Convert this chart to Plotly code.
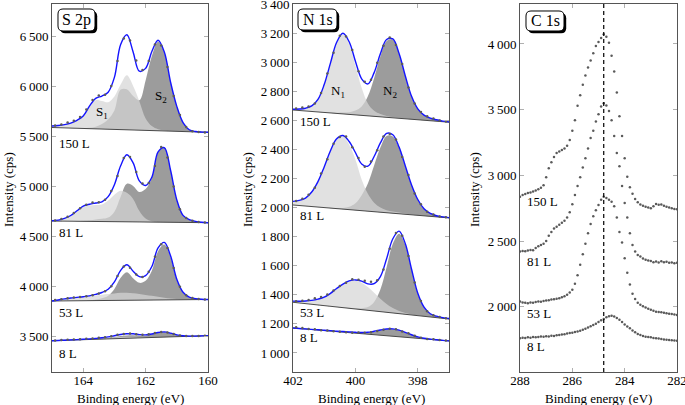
import numpy as np
import plotly.graph_objects as go

W, H = 685, 405
FONT = "Liberation Serif"

# ---------------- S 2p ----------------
s2p_energy = [round(165.0 - 0.2 * i, 2) for i in range(26)]
s2p_data_energy = [round(164.9 - 0.2 * i, 2) for i in range(25)]
s2p_doses = ["150 L", "81 L", "53 L", "8 L"]
s2p_bg = {"150 L": (5585, 5537), "81 L": (4650, 4633), "53 L": (3850, 3865), "8 L": (3453, 3503)}
s2p_s1 = {
    "150 L": [15, 22, 33, 50, 79, 122, 217, 285, 280, 270, 330, 450, 545, 440, 290, 120, 45, 15, 5, 0, 0, 0, 0, 0, 0, 0],
    "81 L": [3, 10, 28, 57, 102, 145, 160, 165, 170, 210, 270, 310, 290, 230, 110, 35, 8, 2, 0, 0, 0, 0, 0, 0, 0, 0],
    "53 L": [0, 10, 20, 28, 33, 38, 43, 50, 57, 64, 70, 75, 75, 70, 62, 52, 42, 32, 22, 14, 8, 4, 2, 0, 0, 0],
    "8 L": [0, 0, 1, 2, 3, 3, 4, 6, 8, 11, 14, 16, 16, 14, 10, 6, 3, 1, 0, 0, 0, 0, 0, 0, 0, 0],
}
s2p_s2 = {
    "150 L": [0, 0, 0, 0, 1, 3, 8, 20, 50, 100, 190, 400, 405, 340, 300, 500, 745, 890, 785, 490, 250, 90, 20, 4, 0, 0],
    "81 L": [0, 0, 0, 0, 3, 7, 12, 20, 27, 40, 100, 250, 380, 360, 300, 330, 440, 700, 745, 520, 225, 70, 28, 12, 4, 0],
    "53 L": [0, 0, 0, 0, 1, 2, 5, 12, 23, 48, 115, 225, 280, 220, 173, 193, 293, 488, 553, 426, 197, 71, 23, 10, 3, 0],
    "8 L": [0, 0, 0, 0, 0, 1, 2, 3, 5, 9, 16, 24, 29, 29, 23, 22, 32, 47, 52, 38, 18, 7, 2, 0, 0, 0],
}
s2p_data = {
    "150 L": [5605, 5615, 5635, 5652, 5690, 5765, 5860, 5905, 5912, 6000, 6250, 6475, 6455, 6255, 6160, 6250, 6415, 6405, 6190, 5900, 5710, 5590, 5548, 5540, 5536],
    "81 L": [4656, 4670, 4692, 4730, 4778, 4812, 4835, 4838, 4862, 4950, 5100, 5280, 5290, 5140, 5025, 5030, 5200, 5390, 5285, 4995, 4768, 4680, 4652, 4640, 4636],
    "53 L": [3860, 3868, 3878, 3885, 3890, 3897, 3908, 3924, 3948, 3998, 4100, 4195, 4182, 4115, 4090, 4142, 4293, 4418, 4380, 4180, 3992, 3908, 3880, 3871, 3866],
    "8 L": [3456, 3459, 3462, 3466, 3468, 3472, 3476, 3482, 3488, 3498, 3512, 3521, 3525, 3518, 3512, 3517, 3530, 3541, 3536, 3520, 3506, 3500, 3499, 3501, 3502],
}
s2p_label_y = {"150 L": 5430, "81 L": 4540, "53 L": 3740, "8 L": 3330}

# ---------------- N 1s ----------------
n1s_energy = [round(402.0 - 0.2 * i, 2) for i in range(26)]
n1s_data_energy = [round(401.9 - 0.2 * i, 2) for i in range(25)]
n1s_bg = {"150 L": (2673, 2589), "81 L": (2019, 1930), "53 L": (1349, 1234), "8 L": (1172, 1083)}
n1s_n1 = {
    "150 L": [5, 10, 19, 38, 85, 190, 340, 485, 546, 485, 340, 190, 85, 38, 19, 10, 5, 3, 2, 1, 0, 0, 0, 0, 0, 0],
    "81 L": [25, 35, 55, 100, 175, 280, 393, 477, 499, 449, 349, 215, 120, 62, 32, 18, 12, 8, 5, 3, 2, 1, 0, 0, 0, 0],
    "53 L": [8, 12, 18, 27, 40, 58, 89, 126, 160, 186, 195, 186, 160, 126, 89, 58, 34, 18, 9, 4, 2, 1, 0, 0, 0, 0],
    "8 L": [0, 0, 1, 1, 2, 2, 3, 3, 4, 4, 4, 4, 3, 3, 2, 2, 1, 1, 0, 0, 0, 0, 0, 0, 0, 0],
}
n1s_n2 = {
    "150 L": [0, 0, 0, 0, 1, 2, 3, 5, 9, 15, 30, 62, 135, 263, 415, 526, 538, 443, 293, 157, 75, 35, 18, 10, 4, 2],
    "81 L": [0, 0, 0, 0, 0, 0, 2, 4, 8, 20, 48, 107, 190, 318, 445, 529, 529, 451, 328, 203, 107, 48, 20, 8, 4, 2],
    "53 L": [0, 0, 0, 0, 0, 0, 0, 1, 2, 3, 5, 10, 22, 62, 152, 311, 477, 550, 477, 311, 152, 62, 22, 10, 5, 3],
    "8 L": [0, 0, 0, 0, 0, 0, 0, 0, 0, 1, 2, 4, 10, 21, 34, 45, 50, 45, 34, 21, 10, 4, 2, 1, 0, 0],
}
n1s_data = {
    "150 L": [2683, 2690, 2697, 2718, 2790, 2925, 3068, 3185, 3180, 3086, 2940, 2868, 2882, 2998, 3116, 3172, 3120, 2990, 2828, 2718, 2660, 2630, 2614, 2600, 2594],
    "81 L": [2047, 2062, 2090, 2138, 2235, 2334, 2440, 2488, 2490, 2416, 2342, 2283, 2318, 2396, 2490, 2508, 2470, 2350, 2225, 2098, 2024, 1972, 1954, 1940, 1935],
    "53 L": [1356, 1360, 1364, 1376, 1385, 1402, 1430, 1462, 1484, 1508, 1505, 1498, 1490, 1500, 1575, 1718, 1826, 1808, 1668, 1486, 1358, 1288, 1260, 1247, 1239],
    "8 L": [1178, 1172, 1165, 1163, 1156, 1155, 1150, 1147, 1143, 1140, 1141, 1139, 1143, 1152, 1160, 1167, 1163, 1148, 1136, 1119, 1104, 1097, 1094, 1090, 1086],
}
n1s_label_y = {"150 L": 2593, "81 L": 1950, "53 L": 1278, "8 L": 1105}

# ---------------- C 1s ----------------
c1s_energy = [round(288.0 - 0.1 * i, 2) for i in range(61)]
c1s_data = {
    "150 L": [2838, 2850, 2858, 2866, 2870, 2878, 2885, 2895, 2905, 2925, 2985, 3055, 3100, 3140, 3170, 3182, 3193, 3205, 3225, 3270,
              3340, 3420, 3530, 3610, 3690, 3760, 3820, 3875, 3930, 3985, 4015, 4045, 4074, 4055, 4010, 3910, 3790, 3630, 3450, 3300,
              3130, 2990, 2910, 2860, 2820, 2795, 2778, 2768, 2762, 2755, 2750, 2765, 2782, 2776, 2778, 2768, 2762, 2755, 2750, 2745, 2742],
    "81 L": [2420, 2425, 2422, 2428, 2432, 2430, 2448, 2460, 2470, 2480, 2500, 2540, 2570, 2595, 2610, 2625, 2640, 2655, 2680, 2720,
             2780, 2850, 2920, 2985, 3060, 3130, 3205, 3285, 3340, 3410, 3465, 3525, 3549, 3532, 3490, 3420, 3300, 3170, 3070, 2920,
             2790, 2680, 2560, 2470, 2420, 2395, 2382, 2368, 2358, 2352, 2348, 2340, 2345, 2338, 2346, 2340, 2343, 2335, 2338, 2332, 2336],
    "53 L": [2040, 2033, 2030, 2028, 2032, 2030, 2036, 2040, 2038, 2045, 2048, 2050, 2055, 2058, 2062, 2066, 2072, 2080, 2092, 2108,
             2130, 2175, 2240, 2320, 2400, 2480, 2560, 2630, 2690, 2735, 2775, 2815, 2838, 2828, 2815, 2800, 2765, 2680, 2570, 2490,
             2370, 2260, 2170, 2100, 2060, 2030, 2015, 2005, 1995, 1985, 1978, 1970, 1963, 1960, 1958, 1955, 1951, 1948, 1945, 1942, 1938],
    "8 L": [1760, 1765, 1762, 1768, 1765, 1770, 1768, 1770, 1775, 1772, 1776, 1775, 1780, 1778, 1784, 1786, 1790, 1792, 1796, 1800,
            1803, 1808, 1812, 1818, 1825, 1833, 1842, 1852, 1862, 1872, 1885, 1897, 1908, 1920, 1928, 1932, 1926, 1915, 1902, 1885,
            1866, 1850, 1836, 1820, 1806, 1793, 1785, 1778, 1772, 1770, 1768, 1762, 1760, 1758, 1756, 1752, 1750, 1748, 1746, 1744, 1742],
}
c1s_label_y = {"150 L": 2800, "81 L": 2343, "53 L": 1951, "8 L": 1696}
c1s_reference_energy = 284.8

# ticks
s2p_xticks = [164, 162, 160]
s2p_yticks = [3500, 4000, 4500, 5000, 5500, 6000, 6500]
n1s_xticks = [402, 400, 398]
n1s_yticks = [1000, 1200, 1400, 1600, 1800, 2000, 2200, 2400, 2600, 2800, 3000, 3200, 3400]
c1s_xticks = [288, 286, 284, 282]
c1s_yticks = [2000, 2500, 3000, 3500, 4000]

LIGHT = "rgba(213,213,213,0.72)"
DARK = "rgba(128,128,128,0.78)"
BLUE = "#1414ff"
DOT = "#5a5a5a"


def fmt(v):
    return f"{v:,}".replace(",", "\u2009")


fig = go.Figure()


def add_fit(xa, ya, energy, bg, comp_light, comp_dark, dE, dY):
    e = np.array(energy)
    bgy = np.linspace(bg[0], bg[1], len(e))
    lt = bgy + np.array(comp_light)
    dk = bgy + np.array(comp_dark)
    env = bgy + np.array(comp_light) + np.array(comp_dark)
    common = dict(xaxis=xa, yaxis=ya, showlegend=False, hoverinfo="skip")
    fig.add_trace(go.Scatter(x=e, y=bgy, mode="lines", line=dict(width=0), **common))
    fig.add_trace(go.Scatter(x=e, y=dk, mode="lines", fill="tonexty", fillcolor=DARK,
                             line=dict(width=0, shape="spline", smoothing=1.0), **common))
    fig.add_trace(go.Scatter(x=e, y=bgy, mode="lines", line=dict(width=0), **common))
    fig.add_trace(go.Scatter(x=e, y=lt, mode="lines", fill="tonexty", fillcolor=LIGHT,
                             line=dict(width=0, shape="spline", smoothing=1.0), **common))
    fig.add_trace(go.Scatter(x=e, y=bgy, mode="lines", line=dict(width=0.9, color="#3a3a3a"), **common))
    fig.add_trace(go.Scatter(x=e, y=env, mode="lines", line=dict(width=1.4, color=BLUE, shape="spline", smoothing=1.0), **common))
    fig.add_trace(go.Scatter(x=dE, y=dY, mode="markers", marker=dict(size=2.5, color=DOT), **common))


for d in s2p_doses:
    add_fit("x", "y", s2p_energy, s2p_bg[d], s2p_s1[d], s2p_s2[d], s2p_data_energy, s2p_data[d])
    add_fit("x2", "y2", n1s_energy, n1s_bg[d], n1s_n1[d], n1s_n2[d], n1s_data_energy, n1s_data[d])
    fig.add_trace(go.Scatter(x=c1s_energy, y=c1s_data[d], xaxis="x3", yaxis="y3", mode="markers",
                             marker=dict(size=2.5, color=DOT), showlegend=False, hoverinfo="skip"))

# axes
domains_x = [(52 / W, 208 / W), (293 / W, 449 / W), (520 / W, 677 / W)]
dom_y = (1 - 372 / H, 1 - 4 / H)
axis_common = dict(showline=True, linecolor="#555555", linewidth=1, mirror="ticks", ticks="inside",
                   ticklen=4, tickcolor="#b0b0b0", tickwidth=1, showgrid=False, zeroline=False,
                   automargin=False, ticklabeloverflow="allow",
                   tickfont=dict(family=FONT, size=13, color="black"))
xr = [[165, 160], [402, 397], [288, 282]]
yr = [[3140, 6820], [869, 3403], [1504, 4304]]
xt = [s2p_xticks, n1s_xticks, c1s_xticks]
yt = [s2p_yticks, n1s_yticks, c1s_yticks]
names = ["", "2", "3"]
for k in range(3):
    fig.update_layout(**{
        "xaxis" + names[k]: dict(domain=domains_x[k], range=xr[k], anchor="y" + names[k],
                                 tickvals=xt[k], ticktext=[str(v) for v in xt[k]],
                                 ticklabelstandoff=-4, **axis_common),
        "yaxis" + names[k]: dict(domain=dom_y, range=yr[k], anchor="x" + names[k],
                                 tickvals=yt[k], ticktext=[fmt(v) for v in yt[k]], **axis_common),
    })

# dashed reference line in C 1s
fig.add_shape(type="line", xref="x3", yref="y3 domain", x0=c1s_reference_energy, x1=c1s_reference_energy,
              y0=0, y1=1, line=dict(color="black", width=1.2, dash="4px,3px"))

ann = []
lab_font = dict(family=FONT, size=13, color="black")
for d in s2p_doses:
    ann.append(dict(x=164.85, y=s2p_label_y[d], xref="x", yref="y", text=d, showarrow=False,
                    xanchor="left", yanchor="middle", font=lab_font))
    ann.append(dict(x=401.83, y=n1s_label_y[d], xref="x2", yref="y2", text=d, showarrow=False,
                    xanchor="left", yanchor="middle", font=lab_font))
    ann.append(dict(x=287.8, y=c1s_label_y[d], xref="x3", yref="y3", text=d, showarrow=False,
                    xanchor="left", yanchor="middle", font=lab_font))

ann += [
    dict(x=163.4, y=5730, xref="x", yref="y", text="S<sub>1</sub>", showarrow=False, font=lab_font),
    dict(x=161.5, y=5890, xref="x", yref="y", text="S<sub>2</sub>", showarrow=False, font=lab_font),
    dict(x=400.55, y=2800, xref="x2", yref="y2", text="N<sub>1</sub>", showarrow=False, font=lab_font),
    dict(x=398.9, y=2800, xref="x2", yref="y2", text="N<sub>2</sub>", showarrow=False, font=lab_font),
]


def P(x, y):
    return x / W, 1 - y / H


for cx in [130, 371, 598.5]:
    xx, yy = P(cx, 398.5)
    ann.append(dict(x=xx, y=yy, xref="paper", yref="paper", text="Binding energy (eV)", showarrow=False,
                    xanchor="center", yanchor="middle", font=lab_font))
for cx in [8, 247, 474]:
    xx, yy = P(cx, 190)
    ann.append(dict(x=xx, y=yy, xref="paper", yref="paper", text="Intensity (cps)", showarrow=False,
                    textangle=-90, xanchor="center", yanchor="middle", font=lab_font))


def rrect(x0, y0, x1, y1, r):
    def p(x, y):
        a, b = P(x, y)
        return f"{a:.5f},{b:.5f}"
    return (f"M {p(x0 + r, y0)} L {p(x1 - r, y0)} Q {p(x1, y0)} {p(x1, y0 + r)} "
            f"L {p(x1, y1 - r)} Q {p(x1, y1)} {p(x1 - r, y1)} L {p(x0 + r, y1)} "
            f"Q {p(x0, y1)} {p(x0, y1 - r)} L {p(x0, y0 + r)} Q {p(x0, y0)} {p(x0 + r, y0)} Z")


boxes = [("S 2p", 58, 9, 95, 31), ("N 1s", 298, 9, 337, 30), ("C 1s", 526, 11, 564, 31)]
for txt, x0, y0, x1, y1 in boxes:
    fig.add_shape(type="path", xref="paper", yref="paper", path=rrect(x0 + 2.2, y0 + 2.2, x1 + 2.2, y1 + 2.2, 5),
                  fillcolor="black", line=dict(width=0))
    fig.add_shape(type="path", xref="paper", yref="paper", path=rrect(x0, y0, x1, y1, 5),
                  fillcolor="white", line=dict(width=1, color="black"))
    xx, yy = P((x0 + x1) / 2, (y0 + y1) / 2)
    ann.append(dict(x=xx, y=yy, xref="paper", yref="paper", text=txt, showarrow=False,
                    xanchor="center", yanchor="middle", font=dict(family=FONT, size=16, color="black")))

fig.update_layout(template="none", annotations=ann, width=W, height=H, margin=dict(l=0, r=0, t=0, b=0, pad=0),
                  paper_bgcolor="white", plot_bgcolor="white", showlegend=False,
                  font=dict(family=FONT, size=13, color="black"))

fig.write_html("out.html", config={"displayModeBar": False},
               post_script="document.body.style.margin='0';")
